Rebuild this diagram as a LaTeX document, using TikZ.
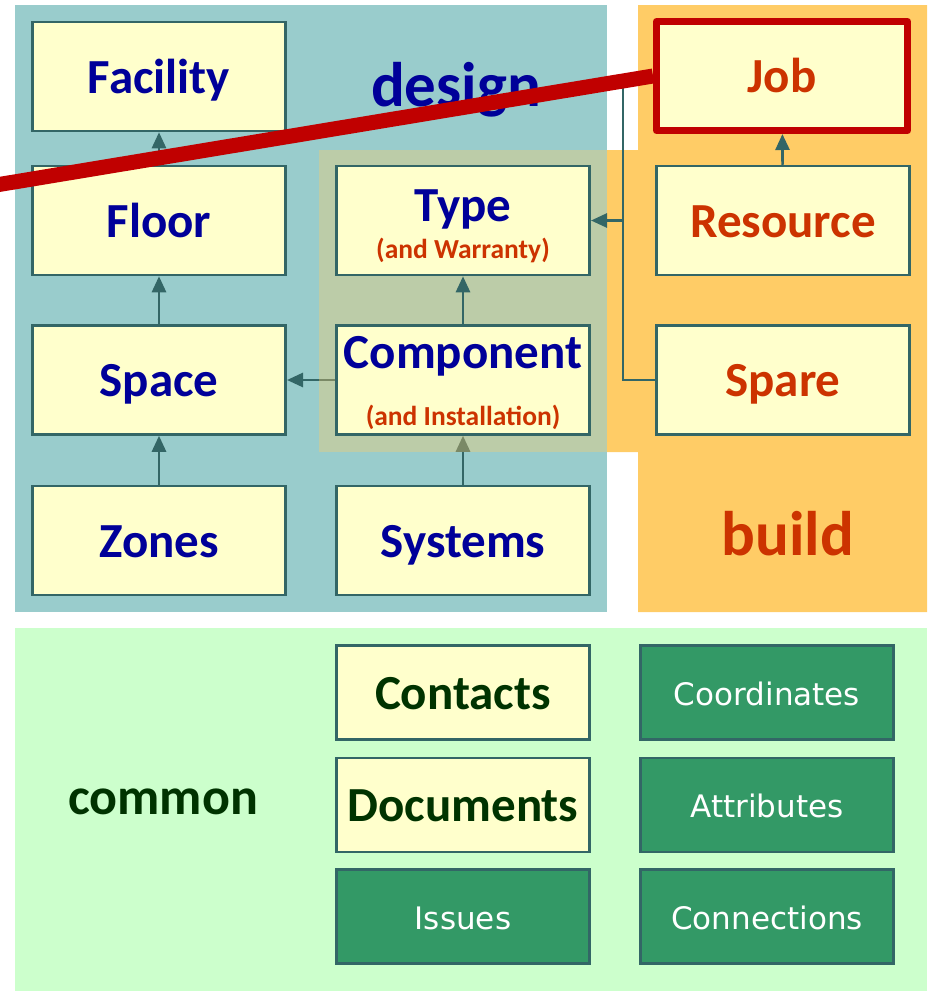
\documentclass[tikz,border=0pt]{standalone}
\usepackage{fontspec}
\setmainfont{Carlito}
\newfontfamily\tagfont{DejaVu Sans}
\usetikzlibrary{arrows.meta,backgrounds}
\definecolor{designbg}{HTML}{99CCCC}
\definecolor{buildbg}{HTML}{FFCC66}
\definecolor{commonbg}{HTML}{CCFFCC}
\definecolor{boxfill}{HTML}{FFFFCC}
\definecolor{boxline}{HTML}{336666}
\definecolor{bluetxt}{HTML}{000099}
\definecolor{redtxt}{HTML}{CC3300}
\definecolor{greentxt}{HTML}{003300}
\definecolor{darkbox}{HTML}{339966}
\definecolor{cutred}{HTML}{C00000}

\begin{document}
\begin{tikzpicture}[x=1pt,y=-1pt,>={Triangle[length=16pt,width=14pt]},
	ent/.style={draw=boxline,line width=2.7pt,fill=boxfill,inner sep=0pt,
		minimum width=253.3pt,minimum height=108.8pt,
		font=\fontsize{49}{56}\selectfont\bfseries,text height=40pt,text depth=7pt},
	com/.style={ent,minimum height=94pt},
	dark/.style={com,fill=darkbox,text=white,
		font=\tagfont\fontsize{31}{36}\selectfont,text height=30pt,text depth=5pt},
	sub/.style={font=\fontsize{27.5}{30}\selectfont\bfseries,text=redtxt,inner sep=0pt,anchor=base},
	area/.style={font=\fontsize{63}{70}\selectfont\bfseries,inner sep=0pt,anchor=base},
	link/.style={draw=boxline,line width=2.7pt,->},
	wire/.style={draw=boxline,line width=2.7pt}]
	\useasboundingbox (0,0) rectangle (927,991);
	% design
	\node[ent,text=bluetxt] (facility) at (159,76.5) {Facility};
	\node[ent,text=bluetxt] (floor) at (159,220.5) {Floor};
	\node[ent,text=bluetxt] (space) at (159,380) {Space};
	\node[ent,text=bluetxt] (zones) at (159,540.5) {Zones};
	\node[ent,text=bluetxt,text height=20pt,text depth=19pt] (type) at (463,220.5) {Type};
	\node[sub] (typenote) at (463,258) {(and Warranty)};
	\node[ent,text=bluetxt,text height=16pt,text depth=40pt] (component) at (463,380) {Component};
	\node[sub] (componentnote) at (463,425) {(and Installation)};
	\node[ent,text=bluetxt] (systems) at (463,540.5) {Systems};
	\node[area,text=bluetxt] (design) at (456,106) {design};
	% build
	\node[ent,text=redtxt,draw=cutred,line width=7pt,line join=round,
		minimum width=251pt,minimum height=109pt] (job) at (782,76) {Job};
	\node[ent,text=redtxt] (resource) at (783,220.5) {Resource};
	\node[ent,text=redtxt] (spare) at (783,380) {Spare};
	\node[area,text=redtxt] (build) at (788,555) {build};
	% common
	\node[font=\fontsize{52}{60}\selectfont\bfseries,text=greentxt] (common) at (163,802) {common};
	\node[com,text=greentxt] (contacts) at (463,692.5) {Contacts};
	\node[com,text=greentxt] (documents) at (463,805) {Documents};
	\node[dark] (issues) at (463,916.5) {Issues};
	\node[dark] (coordinates) at (767,692.5) {Coordinates};
	\node[dark] (attributes) at (767,805) {Attributes};
	\node[dark] (connections) at (767,916.5) {Connections};
	\coordinate (bus) at (623,0);
	\coordinate (cut) at (-10,186);
	\begin{pgfonlayer}{background}
		\fill[designbg] (15,5) rectangle (607,612);
		\fill[buildbg] (638,5) -- (927,5) -- (927,612) -- (638,612) -- (638,452)
			-- (607,452) -- (607,150) -- (638,150) -- cycle;
		\fill[commonbg] (15,628) rectangle (927,991);
		\draw[link] (systems) -- (component);
		\draw[link] (component) -- (space);
		\fill[buildbg,opacity=0.35] (319,150) rectangle (607,452);
	\end{pgfonlayer}
	\draw[link] (floor) -- (facility);
	\draw[link] (space) -- (floor);
	\draw[link] (zones) -- (space);
	\draw[link] (component) -- (type);
	\draw[link] (resource) -- (job);
	\draw[wire] (job.west) -| (bus |- spare.west) -- (spare.west);
	\draw[link] (bus |- type.east) -- (type.east);
	\draw[cutred,line width=15pt] (cut) -- (job.west);
\end{tikzpicture}
\end{document}
